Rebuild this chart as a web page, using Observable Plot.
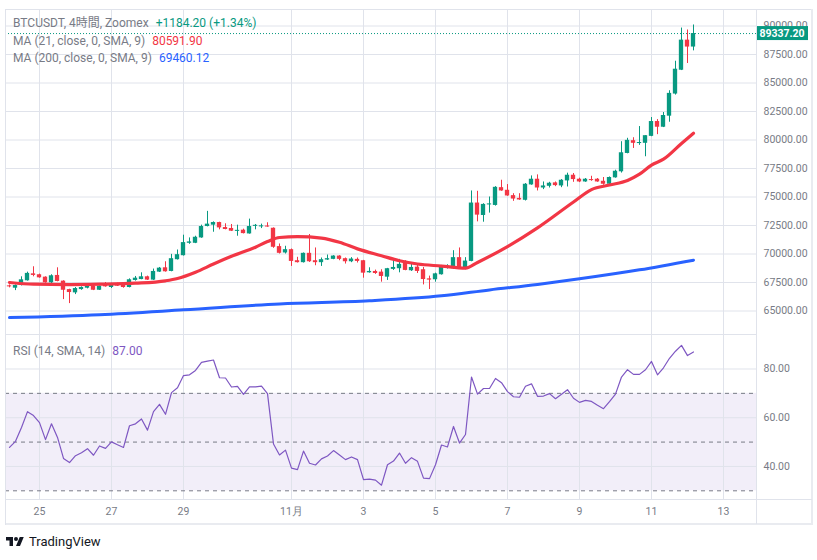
<!DOCTYPE html>
<html><head><meta charset="utf-8">
<script src="https://cdn.jsdelivr.net/npm/d3@7"></script>
<script src="https://cdn.jsdelivr.net/npm/@observablehq/plot@0.6"></script>
<style>
body{margin:0;background:#fff;}
#wrap{position:relative;width:817px;height:560px;overflow:hidden;background:#fff;font-family:Roboto,"Noto Sans CJK JP",sans-serif;}
.line{position:absolute;background:#e0e3eb;}
.leg{position:absolute;left:13px;font-size:12px;color:#787b86;white-space:nowrap;line-height:14px;}
.leg span{margin-left:7px;}
#wrap > svg{position:absolute;overflow:visible;}
</style></head><body><div id="wrap"></div>
<script>
// ---- data (4h candles, index 0 = Oct 25 00:00) ----
const startIndex = -5;
const open  = [67206,67000,67235,67650,68260,68180,67970,67470,68120,67620,66880,66590,66880,67000,67180,66820,67380,67060,67350,67290,67060,67680,67760,68000,67710,68410,68790,68470,69500,69850,70940,70940,71410,72410,72530,72760,72320,72240,72000,72090,71760,72440,72410,72440,72260,70650,70090,70380,69410,69240,70060,69410,69240,69470,69530,69820,69590,69320,69530,69410,68350,68470,68410,67970,68650,68710,69350,68530,68850,68620,67820,67740,68180,68820,68710,69680,68710,69350,74470,73380,74320,74260,75820,75590,75120,74880,74710,76060,76560,75790,75940,76240,75970,76410,76910,76560,76320,76530,76560,76380,76120,76680,77210,78820,79940,79710,79710,80320,81620,81120,82090,84030,86120,88760,88153];
const high  = [67290,67290,68000,68410,68880,68235,68000,68180,68790,67650,66910,67060,67120,67260,67240,67200,67500,67440,67440,67380,67820,68030,68350,68060,68680,68820,69320,69970,70350,71650,71410,71560,72530,73740,72820,72790,72650,72590,72530,72180,73060,72590,72620,72740,72290,70880,70680,70440,69710,70090,71710,70530,69650,69910,69850,69850,69650,69680,69650,69440,68790,68590,68620,68740,69440,69530,69410,69120,69120,68820,68060,68320,69000,69060,70290,70530,69680,75530,75500,74410,75000,75910,76470,76090,75290,75290,76180,76850,76940,76320,76290,76320,76530,77090,77060,76650,76620,76820,76620,76710,76760,77350,79850,80150,80200,81180,80380,81970,81790,82410,84320,86910,89820,89650,90090];
const low   = [67030,66790,67200,67620,68000,67880,67440,67410,67560,66000,65650,66440,66820,66940,66790,66800,67090,66970,67150,67000,67030,67620,67740,67680,67680,68380,68410,68440,69470,69820,70850,70910,71380,72380,71910,72120,72120,71970,71560,71760,71740,72120,72230,72350,70500,70000,70000,68910,69210,69210,69260,68970,68910,69440,69500,69410,69120,69240,69210,67880,68320,68210,67530,67680,68560,68350,68530,68470,68290,67290,66880,67530,68150,68680,68650,68760,68620,69320,72820,72790,73590,74200,75500,75060,74620,74710,74650,76030,75530,75650,75790,75910,75820,75880,76290,76260,76290,76380,76290,76030,76090,76650,77100,78790,79260,79530,78530,80290,80470,81090,81560,83940,86090,86710,87820];
const close = [67118,67235,67735,68300,68120,67910,67470,68090,67590,66820,66620,66970,67060,67180,66820,67180,67120,67350,67180,67060,67740,67880,68000,67710,68470,68760,68440,69590,69940,71000,71060,71470,72410,72620,72760,72290,72150,72000,72060,71790,72410,72500,72440,72380,70590,70060,70380,69350,69240,70060,69320,69240,69500,69590,69820,69530,69320,69560,69350,68320,68470,68290,68030,68710,68820,69090,68560,68820,68470,67760,67710,68260,68940,68940,69680,68820,69380,74470,73410,74350,74380,75850,75530,75090,74820,74740,76120,76560,75790,75970,76210,76000,76470,76910,76530,76320,76560,76440,76320,76120,76710,77260,78880,79970,79710,79760,80380,81620,81120,82150,84090,86210,88760,88153,89337.2];
const ma21Index  = [-5,-1,5,10,16,21,23,26,29,32,36,38,40,43,47,50,53,57,60,63,67,71,73,78,83,89,92,95,98,100,102,104,107,109];
const ma21Value  = [67500,67350,67320,67350,67440,67650,67850,68400,69120,69800,70600,71090,71450,71530,71400,71030,70450,69850,69410,69120,68940,68760,69260,70650,72290,74560,75650,76050,76450,77000,77800,78320,79700,80591.9];
const ma200Index = [-5,10,24,40,55,67,75,83,90,100,109];
const ma200Value = [64420,64680,65100,65620,65900,66330,66850,67330,67820,68610,69460.12];
const rsiValue = [47.8,50.3,56.0,62.5,60.9,58.0,51.0,57.5,51.9,43.3,41.6,44.4,45.6,47.3,44.6,48.4,47.4,50.1,48.9,47.8,56.7,57.5,59.5,54.9,62.5,65.5,61.4,70.3,72.3,77.3,77.6,79.4,82.7,83.2,83.7,76.4,76.3,72.6,72.9,69.6,72.7,72.7,73.0,69.9,49.2,44.7,46.7,39.3,38.7,46.3,41.3,40.6,43.1,44.3,46.5,44.7,42.8,43.9,42.8,34.6,34.8,34.4,32.3,40.7,42.2,45.5,41.3,43.6,42.1,35.2,35.0,40.7,48.8,48.0,56.4,49.6,53.1,76.7,69.7,72.0,72.0,76.1,74.4,70.7,68.6,68.4,72.9,73.9,68.8,68.9,69.9,67.8,69.6,71.5,68.0,66.3,67.1,66.7,65.1,63.7,66.6,69.7,76.7,79.7,77.8,77.8,79.7,83.1,77.6,80.5,84.4,87.3,89.7,85.5,87.0];
const dayTickIndex = [0,12,24,42,54,66,78,90,102,114];
const dayTickLabel = ["25","27","29","11月","3","5","7","9","11","13"];
const priceTicks = [65000,67500,70000,72500,75000,77500,80000,82500,85000,87500,90000];
const rsiTicks = [40,60,80];
const rsiLevels = [30,50,70];
const rsiBand = [{lo:30,hi:70}];

const GREEN="#089981", RED="#f23645", BLUE="#2962ff", PURPLE="#7e57c2", GRID="#e0e3eb", AX="#787b86";
const candles = open.map((o,k)=>({i:startIndex+k,o,h:high[k],l:low[k],c:close[k]}));
const ma21 = ma21Index.map((i,k)=>({i,v:ma21Value[k]}));
const ma200 = ma200Index.map((i,k)=>({i,v:ma200Value[k]}));
const rsi = rsiValue.map((v,k)=>({i:startIndex+k,v}));
const lastClose = close[close.length-1];
const xDomain=[-17/3,119.5];
const col = d=>d.c>=d.o?GREEN:RED;
const bodyLo = d=>{const a=Math.min(d.o,d.c),b=Math.max(d.o,d.c);return b-a<90?(a+b)/2-45:a;};
const bodyHi = d=>{const a=Math.min(d.o,d.c),b=Math.max(d.o,d.c);return b-a<90?(a+b)/2+45:b;};
const fmt2 = d=>d.toFixed(2);
const wrap = document.getElementById("wrap");

const pricePlot = Plot.plot({
  width:817, height:334, marginTop:10, marginBottom:0, marginLeft:5, marginRight:61,
  x:{domain:xDomain, axis:null},
  y:{domain:[62939,91360], axis:null},
  style:{background:"transparent",fontFamily:"Roboto,sans-serif",fontSize:"10.5px",overflow:"visible"},
  marks:[
    Plot.gridY(priceTicks,{stroke:GRID,strokeOpacity:1}),
    Plot.gridX(dayTickIndex,{stroke:GRID,strokeOpacity:1}),
    Plot.ruleY([lastClose],{stroke:GREEN,strokeDasharray:"1,2"}),
    Plot.ruleX(candles,{x:"i",y1:"l",y2:"h",stroke:col}),
    Plot.rect(candles,{x1:d=>d.i-0.36,x2:d=>d.i+0.36,y1:bodyLo,y2:bodyHi,fill:col}),
    Plot.line(ma21,{x:"i",y:"v",stroke:RED,strokeWidth:3.2,curve:"monotone-x"}),
    Plot.line(ma200,{x:"i",y:"v",stroke:BLUE,strokeWidth:3,curve:"monotone-x"}),
    Plot.axisY(priceTicks,{anchor:"right",tickSize:0,tickPadding:7,tickFormat:fmt2,fill:AX,textAnchor:"start",label:null})
  ]
});
pricePlot.style.left="0px"; pricePlot.style.top="0px";
wrap.appendChild(pricePlot);
{
  const y = pricePlot.scale("y").apply(lastClose);
  const g = d3.select(pricePlot).append("g");
  g.append("rect").attr("x",756).attr("y",y-7).attr("width",52).attr("height",14).attr("fill",GREEN);
  g.append("text").attr("x",782).attr("y",y).attr("dy","0.35em").attr("text-anchor","middle")
   .attr("fill","#fff").attr("font-size","10.5px").attr("font-weight","bold").attr("font-family","Roboto,sans-serif").text(fmt2(lastClose));
}

const rsiPlot = Plot.plot({
  width:817, height:191, marginTop:0, marginBottom:25, marginLeft:5, marginRight:61,
  x:{domain:xDomain, axis:null},
  y:{domain:[26.02,94.16], axis:null},
  style:{background:"transparent",fontFamily:"Roboto,sans-serif",fontSize:"10.5px",overflow:"visible"},
  marks:[
    Plot.rect(rsiBand,{y1:"lo",y2:"hi",fill:PURPLE,fillOpacity:0.1}),
    Plot.gridY(rsiTicks,{stroke:GRID,strokeOpacity:1}),
    Plot.gridX(dayTickIndex,{stroke:GRID,strokeOpacity:1}),
    Plot.ruleY(rsiLevels,{stroke:AX,strokeDasharray:"4,4"}),
    Plot.line(rsi,{x:"i",y:"v",stroke:PURPLE,strokeWidth:1.2}),
    Plot.axisY(rsiTicks,{anchor:"right",tickSize:0,tickPadding:7,tickFormat:fmt2,fill:AX,textAnchor:"start",label:null}),
    Plot.axisX(dayTickIndex,{anchor:"bottom",tickSize:0,tickPadding:7,tickFormat:d=>dayTickLabel[dayTickIndex.indexOf(d)],fill:AX,label:null})
  ]
});
rsiPlot.style.left="0px"; rsiPlot.style.top="334px";
wrap.appendChild(rsiPlot);

function ln(l,t,w,h,c){const d=document.createElement("div");d.className="line";Object.assign(d.style,{left:l+"px",top:t+"px",width:w+"px",height:h+"px"});if(c)d.style.background=c;wrap.appendChild(d);}
ln(5,9,807,1); ln(5,523,807,2,"#e9ebf0"); ln(5,9,1,516); ln(811,9,2,516,"#e9ebf0"); ln(756,9,1,515); ln(5,334,751,1); ln(5,499,807,1);

function leg(top,label,val,color){const d=document.createElement("div");d.className="leg";d.style.top=top+"px";d.innerHTML=label+'<span style="color:'+color+'">'+val+'</span>';wrap.appendChild(d);}
leg(16,"BTCUSDT, 4時間, Zoomex","+1184.20 (+1.34%)",GREEN);
leg(34,"MA (21, close, 0, SMA, 9)",ma21Value[ma21Value.length-1].toFixed(2),RED);
leg(51,"MA (200, close, 0, SMA, 9)",ma200Value[ma200Value.length-1].toFixed(2),BLUE);
leg(344,"RSI (14, SMA, 14)",rsiValue[rsiValue.length-1].toFixed(2),PURPLE);

const lg=document.createElement("div");
lg.style.cssText="position:absolute;left:5px;top:534px;display:flex;align-items:center;font-size:13px;color:#131722;font-family:Roboto,sans-serif;";
lg.innerHTML='<svg width="20" height="13" viewBox="0 0 36 26" style="margin-right:4px"><path d="M14 22H7V11H0V4h14v18zM28 22h-8l7.5-18h8L28 22z" fill="#131722"/><circle cx="20" cy="8" r="4" fill="#131722"/></svg>TradingView';
wrap.appendChild(lg);
</script>
</body></html>
